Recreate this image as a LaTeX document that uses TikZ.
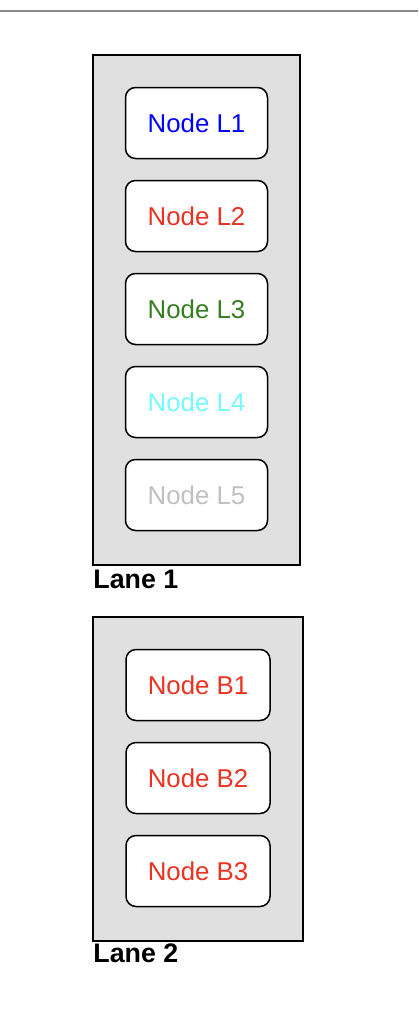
\documentclass[tikz,border=0pt]{standalone}
\usepackage{fontspec}
\setmainfont{Liberation Sans}
\usepackage{tikz}
\usetikzlibrary{positioning}
\definecolor{lnRed}{RGB}{234,51,35}
\definecolor{lnGreen}{RGB}{55,126,34}
\definecolor{lnCyan}{RGB}{117,251,253}
\definecolor{lnGrey}{RGB}{192,192,192}
\definecolor{lnFill}{RGB}{224,224,224}
\tikzset{
  lnlane/.style={draw=black, line width=0.75pt, fill=lnFill},
  lnnode/.style={rectangle, rounded corners=5pt, draw=black, line width=0.75pt,
                 fill=white, minimum width=71pt, minimum height=35.5pt,
                 inner sep=0pt, font=\fontsize{12.9}{15}\selectfont},
  lnwide/.style={lnnode, minimum width=72pt},
  lnlab/.style={anchor=base west, inner sep=0pt,
                font=\fontsize{13.4}{15}\selectfont\bfseries},
}

\begin{document}
\begin{tikzpicture}[x=0.5pt, y=-0.5pt]
  \useasboundingbox (0,0) rectangle (418,1028);
  \draw[draw=black!47, line width=1pt] (0,11) -- (418,11);
  % lane 1
  \draw[lnlane] (93,55) rectangle (300,565);
  \node[lnnode, text=blue] (L1) at (196.5,123) {Node L1};
  \node[lnnode, text=lnRed] (L2) at (196.5,216) {Node L2};
  \node[lnnode, text=lnGreen] (L3) at (196.5,309) {Node L3};
  \node[lnnode, text=lnCyan] (L4) at (196.5,402) {Node L4};
  \node[lnnode, text=lnGrey] (L5) at (196.5,495) {Node L5};
  \node[lnlab] (lane1) at (93,588) {Lane 1};
  % lane 2
  \draw[lnlane] (93,617) rectangle (303,941);
  \node[lnwide, text=lnRed] (B1) at (198,685) {Node B1};
  \node[lnwide, text=lnRed] (B2) at (198,778) {Node B2};
  \node[lnwide, text=lnRed] (B3) at (198,871) {Node B3};
  \node[lnlab] (lane2) at (93,962) {Lane 2};
\end{tikzpicture}
\end{document}
